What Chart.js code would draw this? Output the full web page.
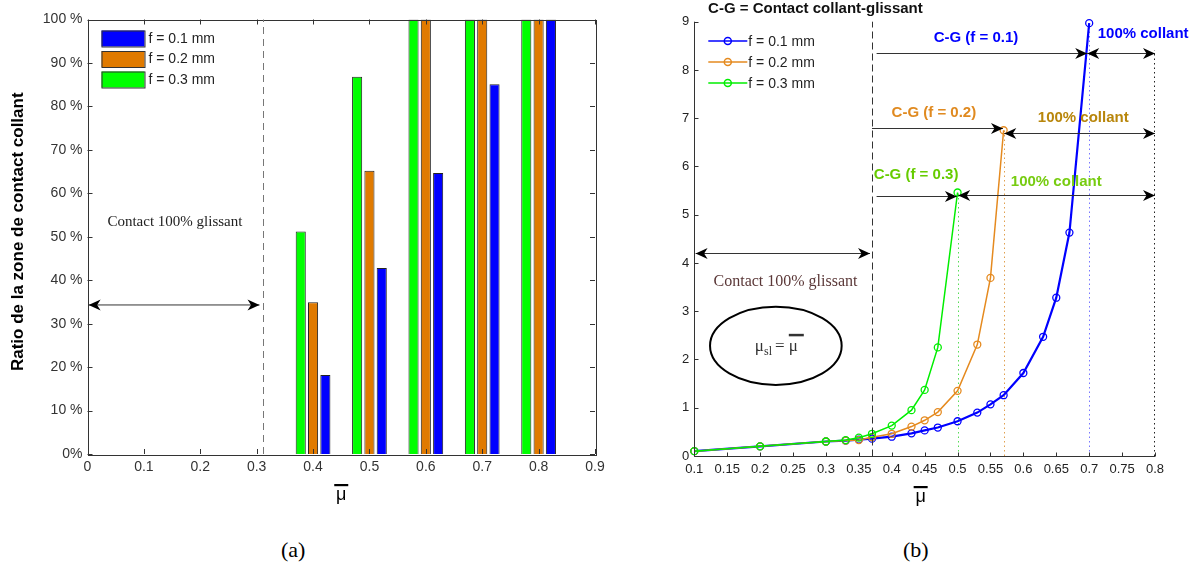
<!DOCTYPE html>
<html>
<head>
<meta charset="utf-8">
<script src="https://cdn.jsdelivr.net/npm/chart.js@4.4.0/dist/chart.umd.min.js"></script>
<style>
  body { margin: 0; background: #fff; width: 1195px; height: 570px; position: relative; overflow: hidden; }
  canvas { position: absolute; top: 0; }
  #chartA { left: 0; }
  #chartB { left: 615px; }
  .caption { position: absolute; top: 537px; font: 22px "Liberation Serif", "Times New Roman", serif; color: #000; }
</style>
</head>
<body>
<canvas id="chartA" width="615" height="510"></canvas>
<canvas id="chartB" width="580" height="510"></canvas>
<div class="caption" style="left:281px">(a)</div>
<div class="caption" style="left:903px">(b)</div>
<script>
// ---- (a) ratio de la zone de contact collant (%) ----
const muBars = [0.4, 0.5, 0.6, 0.7, 0.8];
const ratio01 = [18.2, 42.8, 64.7, 85.1, 100];
const ratio02 = [34.9, 65.2, 100, 100, 100];
const ratio03 = [51.2, 86.8, 100, 100, 100];
const xTicksA = [0, 0.1, 0.2, 0.3, 0.4, 0.5, 0.6, 0.7, 0.8, 0.9];
const yTicksA = [0, 10, 20, 30, 40, 50, 60, 70, 80, 90, 100];

// ---- (b) mu_sl en fonction de mu ----
const mu01 = [0.1, 0.2, 0.3, 0.33, 0.35, 0.37, 0.4, 0.43, 0.45, 0.47, 0.5, 0.53, 0.55, 0.57, 0.6, 0.63, 0.65, 0.67, 0.7];
const musl01 = [0.1, 0.2, 0.3, 0.32, 0.34, 0.36, 0.40, 0.47, 0.53, 0.59, 0.72, 0.90, 1.07, 1.26, 1.72, 2.47, 3.28, 4.63, 8.97];
const mu02 = [0.1, 0.2, 0.3, 0.33, 0.35, 0.37, 0.4, 0.43, 0.45, 0.47, 0.5, 0.53, 0.55, 0.57];
const musl02 = [0.1, 0.2, 0.3, 0.32, 0.33, 0.39, 0.46, 0.61, 0.74, 0.91, 1.35, 2.31, 3.69, 6.75];
const mu03 = [0.1, 0.2, 0.3, 0.33, 0.35, 0.37, 0.4, 0.43, 0.45, 0.47, 0.5];
const musl03 = [0.1, 0.2, 0.3, 0.33, 0.38, 0.46, 0.63, 0.95, 1.37, 2.25, 5.46];
const xTicksB = [0.1, 0.15, 0.2, 0.25, 0.3, 0.35, 0.4, 0.45, 0.5, 0.55, 0.6, 0.65, 0.7, 0.75, 0.8];
const yTicksB = [0, 1, 2, 3, 4, 5, 6, 7, 8, 9];

const labelsF = ['f = 0.1 mm', 'f = 0.2 mm', 'f = 0.3 mm'];
const BLUE = '#0000ff', ORANGE = '#e07a00', GREEN = '#00ff00';
const SANS = '"Liberation Sans", Arial, sans-serif';
const SERIF = '"Liberation Serif", "Times New Roman", serif';

Chart.defaults.font.family = SANS;
Chart.defaults.animation = false;

function toPts(xs, ys) {
    return xs.map((x, i) => ({x: x, y: ys[i]}));
}
function fmt(v) {
    return String(+v.toFixed(2));
}

function seg(ctx, x1, y1, x2, y2) {
    ctx.beginPath();
    ctx.moveTo(x1, y1);
    ctx.lineTo(x2, y2);
    ctx.stroke();
}

// tete de fleche facon matlab
function arrowHead(ctx, x, y, dir) {
    const L = 12, W = 5.5, back = 3.5;
    ctx.beginPath();
    ctx.moveTo(x, y);
    ctx.lineTo(x - dir * L, y - W);
    ctx.lineTo(x - dir * (L - back), y);
    ctx.lineTo(x - dir * L, y + W);
    ctx.closePath();
    ctx.fill();
}
function hArrow(ctx, x1, x2, y, headStart, headEnd) {
    ctx.save();
    ctx.strokeStyle = '#333';
    ctx.fillStyle = '#000';
    ctx.lineWidth = 1;
    seg(ctx, x1, y, x2, y);
    if (headStart) arrowHead(ctx, x1, y, -1);
    if (headEnd) arrowHead(ctx, x2, y, 1);
    ctx.restore();
}

function drawMuBar(ctx, cx, yBar) {
    ctx.save();
    ctx.fillStyle = '#000';
    ctx.font = '18px ' + SANS;
    ctx.textAlign = 'center';
    ctx.textBaseline = 'alphabetic';
    ctx.fillText('\u03bc', cx, yBar + 15);
    ctx.fillRect(cx - 7, yBar - 1, 14, 2.2);
    ctx.restore();
}

// ---------------- plugin (a) ----------------
const annotA = {
    id: 'annotA',
    afterDatasetsDraw(chart) {
        const {ctx, chartArea: a, scales: {x, y}} = chart;
        ctx.save();
        ctx.strokeStyle = '#333';
        ctx.lineWidth = 1;
        ctx.strokeRect(Math.round(a.left) + 0.5, Math.round(a.top) + 0.5, Math.round(a.right - a.left), Math.round(a.bottom - a.top));
        // ticks vers l'interieur
        for (const v of xTicksA) {
            const px = Math.round(x.getPixelForValue(v)) + 0.5;
            seg(ctx, px, a.bottom, px, a.bottom - 5);
            seg(ctx, px, a.top, px, a.top + 5);
        }
        for (const v of yTicksA) {
            const py = Math.round(y.getPixelForValue(v)) + 0.5;
            seg(ctx, a.left, py, a.left + 5, py);
            seg(ctx, a.right, py, a.right - 5, py);
        }
        // limite glissant
        const xl = Math.round(x.getPixelForValue(0.311)) + 0.5;
        ctx.strokeStyle = '#777';
        ctx.setLineDash([7, 5]);
        seg(ctx, xl, a.bottom, xl, a.top);
        ctx.setLineDash([]);
        hArrow(ctx, x.getPixelForValue(0.002), x.getPixelForValue(0.305), y.getPixelForValue(34.3), true, true);
        ctx.fillStyle = '#222';
        ctx.font = '15px ' + SERIF;
        ctx.textAlign = 'center';
        ctx.textBaseline = 'middle';
        ctx.fillText('Contact 100% glissant', x.getPixelForValue(0.155), y.getPixelForValue(53.3));

        // legende
        const sets = [2, 1, 0].map(i => chart.data.datasets[i]);
        ctx.font = '14px ' + SANS;
        ctx.textAlign = 'left';
        sets.forEach((ds, k) => {
            const top = a.top + 11 + k * 20.5;
            ctx.fillStyle = ds.backgroundColor;
            ctx.fillRect(a.left + 14, top, 43, 16);
            ctx.strokeStyle = '#333';
            ctx.strokeRect(a.left + 14.5, top + 0.5, 43, 16);
            ctx.fillStyle = '#222';
            ctx.fillText(ds.label, a.left + 61, top + 8.5);
        });

        // titre axe y
        ctx.save();
        ctx.translate(18.5, (a.top + a.bottom) / 2 - 5);
        ctx.rotate(-Math.PI / 2);
        ctx.font = 'bold 17px ' + SANS;
        ctx.fillStyle = '#000';
        ctx.textAlign = 'center';
        ctx.textBaseline = 'middle';
        ctx.fillText('Ratio de la zone de contact collant', 0, 0);
        ctx.restore();

        drawMuBar(ctx, (a.left + a.right) / 2, 485);
        ctx.restore();
    }
};

new Chart(document.getElementById('chartA'), {
    type: 'bar',
    data: {
        datasets: [
            {label: labelsF[2], data: toPts(muBars, ratio03), backgroundColor: GREEN},
            {label: labelsF[1], data: toPts(muBars, ratio02), backgroundColor: ORANGE},
            {label: labelsF[0], data: toPts(muBars, ratio01), backgroundColor: BLUE}
        ].map(ds => Object.assign(ds, {
            borderColor: '#222', borderWidth: 1,
            categoryPercentage: 0.655, barPercentage: 0.82
        }))
    },
    options: {
        responsive: false,
        devicePixelRatio: 1,
        layout: {padding: {top: 19.5, right: 20, left: 0, bottom: 0}},
        plugins: {legend: {display: false}, tooltip: {enabled: false}},
        scales: {
            x: {
                type: 'linear', min: 0, max: 0.9, offset: false,
                afterBuildTicks: s => { s.ticks = xTicksA.map(v => ({value: v})); },
                afterFit: s => { s.height = 510 - 454; },
                grid: {display: false, drawTicks: false},
                border: {display: false},
                ticks: {padding: 5, color: '#333', font: {size: 14}, maxRotation: 0, autoSkip: false, callback: v => fmt(v)}
            },
            y: {
                min: 0, max: 100,
                afterBuildTicks: s => { s.ticks = yTicksA.map(v => ({value: v})); },
                afterFit: s => { s.width = 87.5; },
                grid: {display: false, drawTicks: false},
                border: {display: false},
                ticks: {padding: 5, color: '#333', font: {size: 14}, callback: v => v === 0 ? '0%' : v + ' %'}
            }
        }
    },
    plugins: [annotA]
});

// ---------------- plugin (b) ----------------
const annotB = {
    id: 'annotB',
    beforeDatasetsDraw(chart) {
        const {ctx, scales: {x, y}} = chart;
        ctx.save();
        ctx.lineWidth = 1;
        ctx.setLineDash([1.5, 3]);
        const ends = [[mu03, musl03, '#55dd55'], [mu02, musl02, '#e0a050'], [mu01, musl01, '#7777ff']];
        for (const [xs, ys, c] of ends) {
            const px = Math.round(x.getPixelForValue(xs[xs.length - 1])) + 0.5;
            ctx.strokeStyle = c;
            seg(ctx, px, y.getPixelForValue(0), px, y.getPixelForValue(ys[ys.length - 1]));
        }
        const p8 = Math.round(x.getPixelForValue(0.8)) - 0.5;
        ctx.strokeStyle = '#222';
        seg(ctx, p8, y.getPixelForValue(0), p8, y.getPixelForValue(8.4));
        ctx.restore();
    },
    afterDatasetsDraw(chart) {
        const {ctx, chartArea: a, scales: {x, y}} = chart;
        ctx.save();
        // axes
        ctx.strokeStyle = '#333';
        ctx.lineWidth = 1;
        const L = Math.round(a.left) + 0.5, B = Math.round(a.bottom) + 0.5;
        seg(ctx, L, a.top, L, B);
        seg(ctx, L, B, a.right, B);
        for (const v of xTicksB) {
            const px = Math.round(x.getPixelForValue(v)) + 0.5;
            seg(ctx, px, B, px, B - 4);
        }
        for (const v of yTicksB) {
            const py = Math.round(y.getPixelForValue(v)) + 0.5;
            seg(ctx, L, py, L + 4, py);
        }
        // limite glissant
        const xl = Math.round(x.getPixelForValue(0.37)) + 0.5;
        ctx.strokeStyle = '#333';
        ctx.setLineDash([7, 4]);
        seg(ctx, xl, B, xl, a.top);
        ctx.setLineDash([]);

        const arrows = [
            [0.102, 0.367, 4.2, true, true],
            [0.377, 0.697, 8.36, false, true],
            [0.697, 0.8, 8.36, true, true],
            [0.37, 0.569, 6.79, false, true],
            [0.571, 0.8, 6.69, true, true],
            [0.377, 0.499, 5.39, false, true],
            [0.501, 0.8, 5.4, true, true]
        ];
        for (const [x1, x2, v, s, e] of arrows) {
            hArrow(ctx, x.getPixelForValue(x1), x.getPixelForValue(x2), Math.round(y.getPixelForValue(v)) + 0.5, s, e);
        }

        const texts = [
            ['C-G (f = 0.1)', 0.528, 8.66, BLUE, 'center'],
            ['100% collant', 0.713, 8.74, BLUE, 'left'],
            ['C-G (f = 0.2)', 0.464, 7.11, '#e08a20', 'center'],
            ['100% collant', 0.691, 7.0, '#b8860b', 'center'],
            ['C-G (f = 0.3)', 0.437, 5.82, '#66cc00', 'center'],
            ['100% collant', 0.65, 5.68, '#77cc11', 'center']
        ];
        ctx.font = 'bold 15px ' + SANS;
        ctx.textBaseline = 'middle';
        for (const [t, tx, ty, c, al] of texts) {
            ctx.fillStyle = c;
            ctx.textAlign = al;
            ctx.fillText(t, x.getPixelForValue(tx), y.getPixelForValue(ty));
        }
        ctx.fillStyle = '#111';
        ctx.textAlign = 'left';
        ctx.fillText('C-G = Contact collant-glissant', x.getPixelForValue(0.121), 9);

        ctx.fillStyle = '#5b3838';
        ctx.font = '16px ' + SERIF;
        ctx.textAlign = 'center';
        ctx.fillText('Contact 100% glissant', x.getPixelForValue(0.2386), y.getPixelForValue(3.6));

        // ellipse mu_sl = mu
        const cx = x.getPixelForValue(0.2239), cy = y.getPixelForValue(2.283);
        const rx = x.getPixelForValue(0.2239 + 0.1) - cx, ry = cy - y.getPixelForValue(2.283 + 0.81);
        ctx.strokeStyle = '#000';
        ctx.lineWidth = 2;
        ctx.beginPath();
        ctx.ellipse(cx, cy, rx, ry, 0, 0, Math.PI * 2);
        ctx.stroke();
        ctx.fillStyle = '#333';
        ctx.textAlign = 'left';
        ctx.textBaseline = 'alphabetic';
        let px = cx - 21;
        ctx.font = '17px ' + SERIF;
        ctx.fillText('\u03bc', px, cy + 5);
        px += ctx.measureText('\u03bc').width;
        ctx.font = '12px ' + SERIF;
        ctx.fillText('sl', px, cy + 9);
        px += ctx.measureText('sl').width + 3;
        ctx.font = '17px ' + SERIF;
        ctx.fillText('=', px, cy + 5);
        px += ctx.measureText('= ').width;
        ctx.fillText('\u03bc', px, cy + 5);
        ctx.fillRect(px, cy - 12, 15, 2.5);

        // legende
        ctx.font = '14px ' + SANS;
        ctx.textBaseline = 'middle';
        [2, 1, 0].forEach((i, k) => {
            const ds = chart.data.datasets[i];
            const ly = a.top + 19.3 + k * 21;
            ctx.strokeStyle = ds.borderColor;
            ctx.lineWidth = 1.5;
            seg(ctx, a.left + 14, ly, a.left + 53, ly);
            ctx.beginPath();
            ctx.arc(a.left + 33.5, ly, 3.5, 0, Math.PI * 2);
            ctx.stroke();
            ctx.fillStyle = '#222';
            ctx.fillText(ds.label, a.left + 54, ly + 1);
        });

        // titre axe y : mu_sl
        ctx.save();
        ctx.translate(640, 238);
        ctx.rotate(-Math.PI / 2);
        ctx.fillStyle = '#000';
        ctx.textAlign = 'left';
        ctx.textBaseline = 'alphabetic';
        ctx.font = '18px ' + SANS;
        ctx.fillText('\u03bc', 0, 0);
        const w = ctx.measureText('\u03bc').width;
        ctx.font = '15px ' + SANS;
        ctx.fillText('sl', w + 1, 5);
        ctx.restore();

        drawMuBar(ctx, (a.left + a.right) / 2 - 4, 487);
        ctx.restore();
    }
};

new Chart(document.getElementById('chartB'), {
    type: 'line',
    data: {
        datasets: [
            {label: labelsF[2], data: toPts(mu03, musl03), borderColor: '#00ee00', borderWidth: 1.5},
            {label: labelsF[1], data: toPts(mu02, musl02), borderColor: '#e58a1f', borderWidth: 1.5},
            {label: labelsF[0], data: toPts(mu01, musl01), borderColor: BLUE, borderWidth: 2.2}
        ].map(ds => Object.assign(ds, {
            pointRadius: 3.5, pointBorderWidth: 1.3,
            pointBackgroundColor: 'rgba(0,0,0,0)', pointBorderColor: ds.borderColor,
            tension: 0, clip: 10
        }))
    },
    options: {
        responsive: false,
        devicePixelRatio: 1,
        layout: {padding: {top: 21.7, right: 40, left: 0, bottom: 0}},
        plugins: {legend: {display: false}, tooltip: {enabled: false}},
        scales: {
            x: {
                type: 'linear', min: 0.1, max: 0.8,
                afterBuildTicks: s => { s.ticks = xTicksB.map(v => ({value: v})); },
                afterFit: s => { s.height = 510 - 456; },
                grid: {display: false, drawTicks: false},
                border: {display: false},
                ticks: {padding: 6, color: '#222', font: {size: 13}, maxRotation: 0, autoSkip: false, callback: v => fmt(v)}
            },
            y: {
                min: 0, max: 9,
                afterBuildTicks: s => { s.ticks = yTicksB.map(v => ({value: v})); },
                afterFit: s => { s.width = 79.3; },
                grid: {display: false, drawTicks: false},
                border: {display: false},
                ticks: {padding: 5, color: '#222', font: {size: 13}, callback: v => String(v)}
            }
        }
    },
    plugins: [annotB]
});
</script>
</body>
</html>
